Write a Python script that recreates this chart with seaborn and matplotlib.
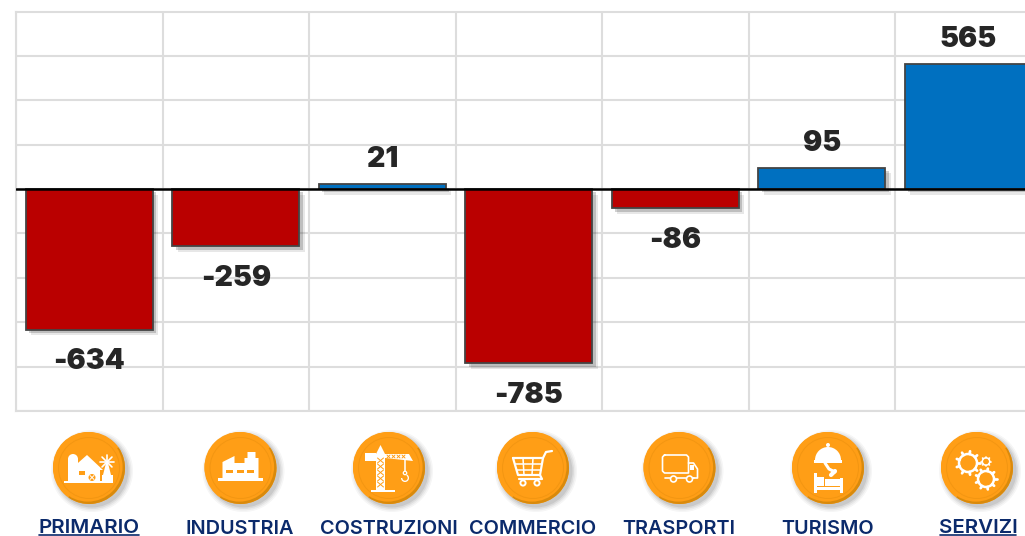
"""
Saldo by sector: bar chart with a row of round icons underneath
"""

import numpy as np
import pandas as pd
import matplotlib.pyplot as plt
import matplotlib.patheffects as pe
from matplotlib.patches import Circle, Polygon, Rectangle, Wedge
import seaborn as sns

SECTORS = ['PRIMARIO', 'INDUSTRIA', 'COSTRUZIONI', 'COMMERCIO', 'TRASPORTI', 'TURISMO', 'SERVIZI']
VALUES = [-634, -259, 21, -785, -86, 95, 565]
UNDERLINED = ['PRIMARIO', 'SERVIZI']
ICON_X = [89, 240.5, 389, 533, 679.5, 828, 977]
LABEL_X = [89, 240, 389, 533, 679, 828, 978]

ORANGE = '#FF9E16'
WHITE = 'white'
NAVY = '#0B2A6B'


def poly(ov, cx, cy, pts, color=WHITE, z=5):
    ov.add_patch(Polygon([(cx + x, cy + y) for x, y in pts], closed=True, fc=color, ec='none', zorder=z))


def rect(ov, cx, cy, x0, y0, x1, y1, color=WHITE, z=5):
    ov.add_patch(Rectangle((cx + x0, cy + y0), x1 - x0, y1 - y0, fc=color, ec='none', zorder=z))


def line(ov, cx, cy, xs, ys, lw=1.4, color=WHITE, z=5):
    ov.plot([cx + x for x in xs], [cy + y for y in ys], color=color, lw=lw, zorder=z,
            solid_capstyle='round')


def dot(ov, cx, cy, x, y, r, fc=WHITE, ec='none', lw=0, z=5):
    ov.add_patch(Circle((cx + x, cy + y), r, fc=fc, ec=ec, lw=lw, zorder=z))


def button(ov, cx, cy):
    # soft shadow, dark rim, face, inner ring
    for grow, alpha in [(6, .04), (4.5, .05), (3, .07), (1.5, .09)]:
        ov.add_patch(Circle((cx + 3, cy + 3), 35 + grow, fc='k', ec='none', alpha=alpha, zorder=2))
    ov.add_patch(Circle((cx, cy), 36, fc=ORANGE, ec='none', zorder=3))
    ov.add_patch(Wedge((cx, cy), 36, -35, 125, width=4, fc='#D98A0C', ec='none', zorder=3))
    ov.add_patch(Circle((cx - 1.2, cy - 1.2), 34.8, fc=ORANGE, ec='none', zorder=3))
    ov.add_patch(Circle((cx, cy), 30.5, fc=ORANGE, ec='#F39612', lw=.7, zorder=4))


def farm(ov, cx, cy):
    rect(ov, cx, cy, -25, 13, 24, 15)
    rect(ov, cx, cy, -21, -9, -11, 13)
    ov.add_patch(Wedge((cx - 16, cy - 9), 5, 180, 360, fc=WHITE, ec='none', zorder=5))
    poly(ov, cx, cy, [(-19, 2), (-2, -13), (14, 2)])
    poly(ov, cx, cy, [(-13, 1), (11, 1), (11, 14), (-13, 14)])
    rect(ov, cx, cy, -10, 3, -4, 6.5, ORANGE, 6)
    dot(ov, cx, cy, 3, 9.5, 3.5, fc=ORANGE, z=6)
    line(ov, cx, cy, [1, 5], [7.5, 11.5], .7, z=7)
    line(ov, cx, cy, [5, 1], [7.5, 11.5], .7, z=7)
    for ang in np.arange(0, 360, 45):
        line(ov, cx, cy, [18, 18 + 7 * np.cos(np.radians(ang))], [-6, -6 + 7 * np.sin(np.radians(ang))], 1.2)
    poly(ov, cx, cy, [(17, -5), (19, -5), (22, 7), (14, 7)])
    rect(ov, cx, cy, 13, 7, 24, 14)


def factory(ov, cx, cy):
    rect(ov, cx, cy, -22.5, 10, 22.5, 13)
    poly(ov, cx, cy, [(-18, -6), (-6, -12), (-6, -5), (4, -5), (4, -10), (7, -10), (7, -16),
                      (15, -16), (15, -10), (18, -10), (18, 10), (-18, 10)])
    for x0 in [-14.5, -3.5, 6.5]:
        rect(ov, cx, cy, x0, 2, x0 + 7, 4.5, ORANGE, 6)


def crane(ov, cx, cy):
    rect(ov, cx, cy, -18, 22, 6, 23.5)
    rect(ov, cx, cy, -13, -14, -4, 22)
    poly(ov, cx, cy, [(-13, -14), (-8.5, -23), (-4, -14)])
    poly(ov, cx, cy, [(-4, -10), (24, -7), (20, -14), (-4, -14)])
    rect(ov, cx, cy, -24, -15, -13, -7)
    for y in np.arange(-10, 20, 6):
        line(ov, cx, cy, [-11.5, -5.5], [y, y + 5], .7, ORANGE, 6)
        line(ov, cx, cy, [-5.5, -11.5], [y, y + 5], .7, ORANGE, 6)
    for x in np.arange(-2, 17, 5):
        line(ov, cx, cy, [x, x + 3], [-13, -10], .7, ORANGE, 6)
        line(ov, cx, cy, [x + 3, x], [-13, -10], .7, ORANGE, 6)
    line(ov, cx, cy, [16, 16], [-8, 6], 1.1)
    ov.add_patch(Wedge((cx + 16, cy + 10), 4, 300, 180, width=1.3, fc=WHITE, ec='none', zorder=5))
    dot(ov, cx, cy, 16, 5, 1.7, fc=ORANGE, ec=WHITE, lw=.9)


def cart(ov, cx, cy):
    line(ov, cx, cy, [-20, 10, 7, -15, -20], [-10, -10, 7, 7, -10], 1.6)
    for x0, x1 in [(-10, -9), (0, -1)]:
        line(ov, cx, cy, [x0, x1], [-10, 7], 1.1)
    for y, x0, x1 in [(-4, -18, 9), (2, -16, 8)]:
        line(ov, cx, cy, [x0, x1], [y, y], 1.1)
    line(ov, cx, cy, [10, 13, 19], [-10, -16, -17], 1.6)
    line(ov, cx, cy, [7, 9, -14], [7, 11, 11], 1.6)
    dot(ov, cx, cy, -10, 15, 2.6, fc=ORANGE, ec=WHITE, lw=1.4)
    dot(ov, cx, cy, 4, 15, 2.6, fc=ORANGE, ec=WHITE, lw=1.4)


def truck(ov, cx, cy):
    line(ov, cx, cy, [-15, 7, 9, 9, -15, -17, -17, -15], [-13, -13, -11, 5, 5, 3, -11, -13], 1.2)
    line(ov, cx, cy, [9, 14, 18, 18, 9], [-5, -5, 1, 10, 10], 1.2)
    line(ov, cx, cy, [-15, 14], [10, 10], 1.2)
    rect(ov, cx, cy, 10.5, -3, 14, 2)
    dot(ov, cx, cy, -6, 11, 3, fc=ORANGE, ec=WHITE, lw=1.2, z=6)
    dot(ov, cx, cy, 10, 11, 3, fc=ORANGE, ec=WHITE, lw=1.2, z=6)


def tourism(ov, cx, cy):
    ov.add_patch(Wedge((cx, cy - 8), 13, 180, 360, fc=WHITE, ec='none', zorder=5))
    dot(ov, cx, cy, 0, -23, 2)
    rect(ov, cx, cy, -14, -8, 14, -5.5)
    line(ov, cx, cy, [-3, 1, 7], [-5, 1, 4], 2.2)
    line(ov, cx, cy, [3, 7], [7, 3], 3)
    rect(ov, cx, cy, -14, 5, -11, 25)
    rect(ov, cx, cy, 12, 10, 15, 25)
    rect(ov, cx, cy, -11, 19, 12, 21.5)
    rect(ov, cx, cy, -11, 9, -4, 18)
    rect(ov, cx, cy, -3, 11, 12, 18)


def gear(ov, cx, cy, x, y, r, lw, teeth):
    ov.add_patch(Circle((cx + x, cy + y), r, fc='none', ec=WHITE, lw=lw, zorder=5))
    for ang in np.linspace(0, 2 * np.pi, teeth, endpoint=False):
        line(ov, cx, cy, [x + r * np.cos(ang), x + (r * 1.32) * np.cos(ang)],
             [y + r * np.sin(ang), y + (r * 1.32) * np.sin(ang)], lw * 1.1)


def gears(ov, cx, cy):
    gear(ov, cx, cy, -9, -5, 9, 1.8, 9)
    gear(ov, cx, cy, 9, -6.5, 3.7, 1.1, 8)
    gear(ov, cx, cy, 9, 11, 8, 1.8, 9)


ICONS = [farm, factory, crane, cart, truck, tourism, gears]


def main():
    sns.set_theme(style='white')
    plt.rcParams['font.family'] = ['Inter', 'DejaVu Sans']

    df = pd.DataFrame({'sector': SECTORS, 'value': VALUES})
    df['sign'] = np.where(df['value'] < 0, 'neg', 'pos')

    fig = plt.figure(figsize=(10.25, 5.36), dpi=100)
    ax = fig.add_axes([16 / 1025, 125 / 536, 1009 / 1025, 399 / 536])

    sns.barplot(data=df, x='sector', y='value', hue='sign', hue_order=['neg', 'pos'],
                palette={'neg': '#BA0000', 'pos': '#0070C0'}, dodge=False, width=.867,
                legend=False, edgecolor='#444444', linewidth=1.3, saturation=1, ax=ax)

    for bar in ax.patches:
        bar.set_path_effects([
            pe.SimplePatchShadow(offset=(4, -4), shadow_rgbFace='k', alpha=.1),
            pe.SimplePatchShadow(offset=(2.5, -2.5), shadow_rgbFace='k', alpha=.2),
            pe.Normal()])

    ax.set_yticks(np.arange(-1000, 801, 200))
    ax.set_xticks(np.arange(-.5, 6.6, 1), minor=True)
    ax.set_xticks(range(7))
    ax.set_xlim(-.5, 6.387)
    ax.set_ylim(-1000, 797)
    ax.tick_params(which='both', length=0, labelbottom=False, labelleft=False)
    ax.set_xlabel('')
    ax.set_ylabel('')
    ax.set_axisbelow(True)
    ax.grid(axis='y', which='major', color='#DDDDDD', lw=1.5)
    ax.grid(axis='x', which='minor', color='#DDDDDD', lw=1.5)
    ax.grid(axis='x', which='major', visible=False)
    for side, spine in ax.spines.items():
        spine.set_visible(side != 'right')
        spine.set_color('#DDDDDD')
        spine.set_linewidth(1.5)
    ax.axhline(0, color='black', lw=1.8, zorder=4)

    # one container per hue level: negatives first, then positives
    ax.bar_label(ax.containers[0], padding=13.4, fontsize=20.5, fontweight='black',
                 color='#262626', fmt='%d')
    ax.bar_label(ax.containers[1], padding=7.8, fontsize=20.5, fontweight='black',
                 color='#262626', fmt='%d')

    # icons and sector names live on a pixel overlay
    ov = fig.add_axes([0, 0, 1, 1], zorder=5)
    ov.set_xlim(0, 1025)
    ov.set_ylim(536, 0)
    ov.axis('off')
    for i, name in enumerate(SECTORS):
        button(ov, ICON_X[i], 468)
        ICONS[i](ov, ICON_X[i], 468)
        under = name in UNDERLINED
        # baseline anchored so the descent box stays inside the figure
        y = 533 if under else 534.5
        ov.text(LABEL_X[i], y, name, ha='center', va='baseline', fontsize=14.8 if under else 14.3,
                fontweight='semibold', color=NAVY)
        if under:
            w = {'PRIMARIO': 50, 'SERVIZI': 38}[name]
            ov.plot([LABEL_X[i] - w, LABEL_X[i] + w], [535.2, 535.2], color=NAVY, lw=1.2)

    fig.savefig('out.png', dpi=100)


if __name__ == '__main__':
    main()
